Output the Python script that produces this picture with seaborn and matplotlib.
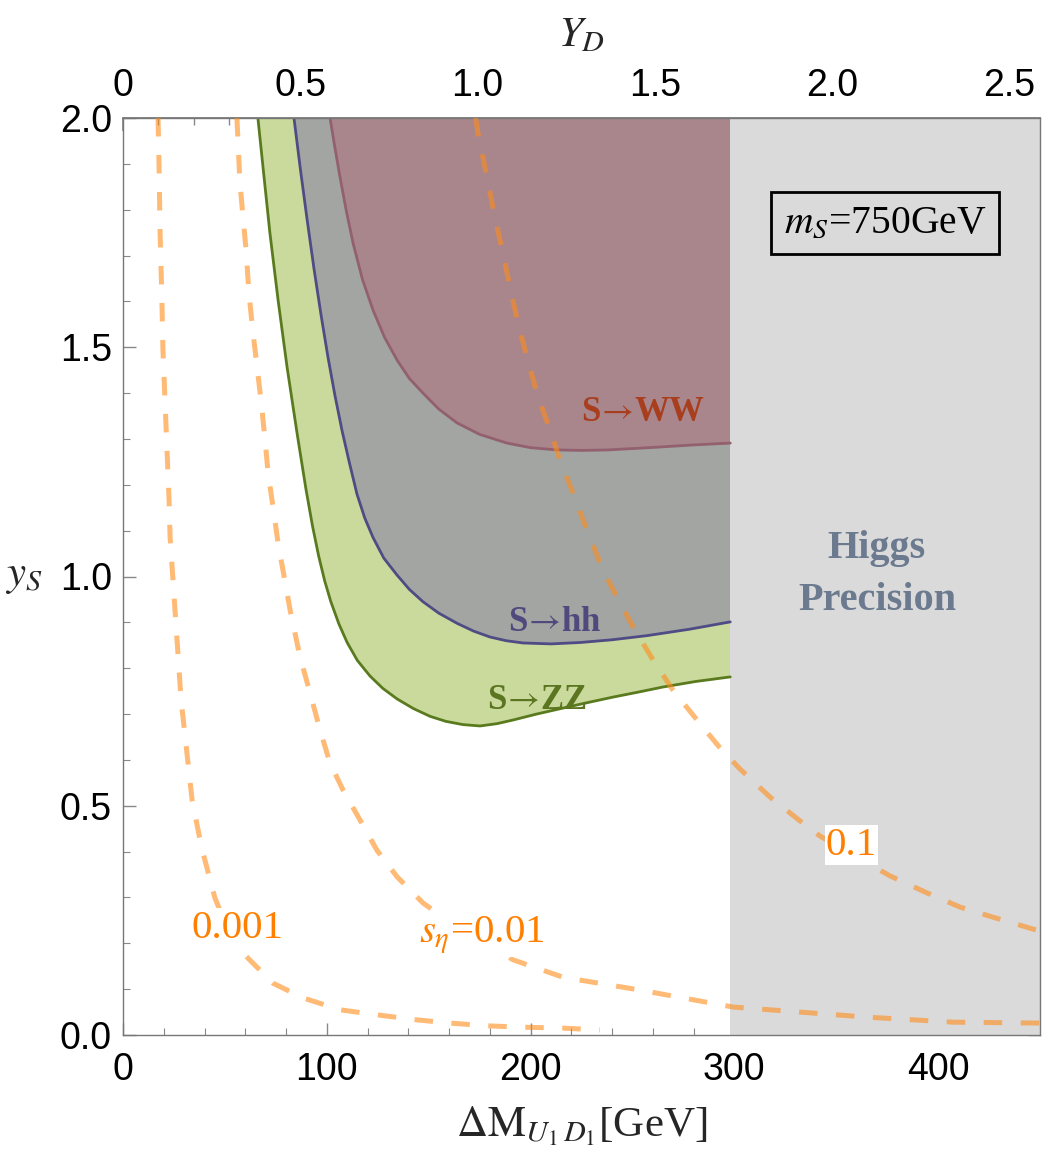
import numpy as np
import pandas as pd
import matplotlib
matplotlib.use("Agg")
import matplotlib.pyplot as plt
from matplotlib.ticker import MultipleLocator
import seaborn as sns

# ---- boundaries of excluded regions, x = dM [GeV], y = y_S
zz_x = [66.2, 68.7, 72.1, 76.1, 80.5, 85.4, 89.8, 93.0, 96.0, 99.0, 102.0, 106.0, 110.0,
        115.0, 121.2, 127.5, 134.5, 142.5, 150.7, 158.5, 166.8, 175.2, 183.5, 191.4, 203.0,
        215.9, 228.0, 240.5, 253.0, 265.0, 281.0, 298.0]
zz_y = [2.000, 1.893, 1.749, 1.603, 1.457, 1.313, 1.190, 1.110, 1.045, 0.990, 0.945, 0.896,
        0.856, 0.817, 0.783, 0.756, 0.733, 0.712, 0.695, 0.684, 0.677, 0.674, 0.679, 0.687,
        0.700, 0.713, 0.725, 0.737, 0.748, 0.759, 0.771, 0.781]

hh_x = [83.9, 87.0, 90.3, 93.7, 97.2, 100.6, 104.0, 107.5, 111.0, 114.8, 118.6, 122.7, 128.0,
        134.5, 140.5, 147.2, 155.0, 163.9, 172.0, 180.1, 188.0, 196.3, 210.0, 224.3, 240.0,
        257.1, 278.0, 298.0]
hh_y = [2.000, 1.890, 1.780, 1.672, 1.570, 1.478, 1.395, 1.318, 1.250, 1.180, 1.128, 1.085,
        1.040, 1.003, 0.972, 0.945, 0.920, 0.898, 0.881, 0.868, 0.860, 0.855, 0.853, 0.856,
        0.862, 0.871, 0.885, 0.901]

ww_x = [101.6, 104.0, 106.5, 109.6, 112.9, 117.5, 122.7, 128.3, 134.5, 140.5, 147.2, 155.0,
        163.9, 175.0, 188.4, 200.0, 213.0, 225.0, 237.5, 250.0, 262.0, 280.0, 298.0]
ww_y = [2.000, 1.935, 1.871, 1.797, 1.727, 1.648, 1.581, 1.522, 1.472, 1.432, 1.400, 1.365,
        1.335, 1.310, 1.291, 1.281, 1.276, 1.275, 1.276, 1.279, 1.282, 1.287, 1.291]

# ---- s_eta contours
s001_x = [17.2, 17.7, 18.2, 19.1, 19.6, 20.6, 21.6, 22.6, 23.1, 28.5, 33.9, 38.5, 45.1, 50.5,
          57.4, 73.6, 88.3, 106.5, 124.6, 144.3, 160.5, 178.6, 196.3, 215.9, 234.0]
s001_y = [2.000, 1.893, 1.749, 1.603, 1.494, 1.385, 1.276, 1.167, 1.086, 0.731, 0.513, 0.410,
          0.299, 0.240, 0.185, 0.113, 0.081, 0.055, 0.044, 0.033, 0.026, 0.020, 0.017, 0.015, 0.011]

s01_x = [55.9, 57.4, 58.9, 60.4, 61.8, 63.8, 65.8, 67.7, 69.7, 71.2, 73.6, 76.1, 82.0, 86.9,
         91.8, 96.7, 101.6, 108.0, 116.3, 124.6, 134.5, 147.2, 154.1, 191.4, 215.9, 253.7,
         299.3, 332.2, 365.1, 407.3, 450.0]
s01_y = [2.000, 1.858, 1.784, 1.712, 1.618, 1.531, 1.457, 1.385, 1.298, 1.226, 1.152, 1.073,
         0.927, 0.824, 0.746, 0.665, 0.593, 0.534, 0.469, 0.403, 0.345, 0.288, 0.266, 0.164,
         0.126, 0.098, 0.061, 0.050, 0.039, 0.028, 0.026]

s1_x = [173.0, 174.2, 178.6, 182.5, 186.4, 189.9, 193.8, 198.2, 203.1, 209.5, 214.4, 220.8,
        227.7, 235.5, 242.4, 250.3, 260.1, 269.9, 281.7, 293.0, 302.8, 317.5, 332.2, 342.0,
        376.4, 394.5, 410.7, 426.9, 446.6, 450.0]
s1_y = [2.000, 1.967, 1.871, 1.784, 1.706, 1.631, 1.553, 1.479, 1.400, 1.320, 1.254, 1.182,
        1.101, 1.014, 0.955, 0.890, 0.818, 0.752, 0.687, 0.626, 0.580, 0.519, 0.467, 0.434,
        0.347, 0.310, 0.279, 0.257, 0.231, 0.227]

higgs_cut = 298  # GeV
x_max = 450
conv = 174.0  # dM / Y_D

sns.set_theme(style="white")
plt.rcParams['font.family'] = ['Liberation Serif', 'DejaVu Serif']
plt.rcParams['mathtext.fontset'] = 'stix'

fig = plt.figure(figsize=(10.42, 11.63), dpi=100)
ax = fig.add_axes([123/1042, 1 - 1035/1163, 917/1042, 917/1163])

# excluded regions
ax.fill_between(zz_x, zz_y, 2, color='#c9da9c', lw=0, zorder=1)
ax.fill_between(hh_x, hh_y, 2, color='#a3a5a2', lw=0, zorder=1.1)
ax.fill_between(ww_x, ww_y, 2, color='#a9868b', lw=0, zorder=1.2)
ax.axvspan(higgs_cut, x_max, color='#dadada', lw=0, zorder=1.5)

for xs, ys, c in [(zz_x, zz_y, '#5a7a1e'), (hh_x, hh_y, '#4f4b85'), (ww_x, ww_y, '#93606f')]:
    sns.lineplot(x=xs, y=ys, color=c, lw=2, ax=ax, zorder=2, sort=False)

# s_eta contours
for xs, ys in [(s001_x, s001_y), (s01_x, s01_y), (s1_x, s1_y)]:
    sns.lineplot(x=xs, y=ys, color='#ff8c1a', alpha=0.6, lw=3.6, ax=ax, zorder=3,
                 sort=False, linestyle=(0, (3.7, 3.7)))

lab_kw = dict(color='#ff8000', fontsize=29.5, ha='center', va='center', zorder=4,
              bbox=dict(facecolor='white', edgecolor='none', pad=1))
ax.text(56.4, 0.233, '0.001', **lab_kw)
ax.text(176.2, 0.218, r'$s_\eta$=0.01', **lab_kw)
ax.text(357.5, 0.414, '0.1', **lab_kw)

# region labels
reg_kw = dict(fontsize=25, fontweight='bold', ha='center', va='center', zorder=4)
ax.text(255, 1.357, r'S$\!\rightarrow\!$WW', color='#a83e1e', **reg_kw)
ax.text(212, 0.90, r'S$\!\rightarrow\!$hh', color='#4e4a7e', **reg_kw)
ax.text(203, 0.73, r'S$\!\rightarrow\!$ZZ', color='#5b7520', **reg_kw)
ax.text(370, 1.005, 'Higgs\nPrecision', color='#6b7a8f', fontsize=29, fontweight='bold',
        ha='center', va='center', linespacing=1.55, zorder=4)
ax.text(374, 1.771, r'$m_S$=750GeV', color='black', fontsize=28.5, ha='center', va='center', zorder=4,
        bbox=dict(facecolor='none', edgecolor='black', lw=2, pad=9))

ax.set_xlim(0, x_max)
ax.set_ylim(0, 2)
ax.xaxis.set_major_locator(MultipleLocator(100))
ax.xaxis.set_minor_locator(MultipleLocator(20))
ax.yaxis.set_major_locator(MultipleLocator(0.5))
ax.yaxis.set_minor_locator(MultipleLocator(0.1))
ax.set_yticks([0, 0.5, 1.0, 1.5, 2.0], ['0.0', '0.5', '1.0', '1.5', '2.0'])
ax.set_xticks([0, 100, 200, 300, 400], ['0', '100', '200', '300', '400'])
ax.tick_params(which='both', direction='in', colors='#888888', labelcolor='black',
               top=False, right=True, left=True, bottom=True)
ax.tick_params(which='major', length=9, width=1)
ax.tick_params(which='minor', length=5, width=0.8)
ax.tick_params(axis='x', pad=12)
ax.tick_params(axis='y', pad=8)
for lab in ax.get_xticklabels() + ax.get_yticklabels():
    lab.set_family(['Liberation Sans', 'DejaVu Sans'])
    lab.set_fontsize(27)
for sp in ax.spines.values():
    sp.set_color('#777777')
    sp.set_linewidth(1)

top = ax.secondary_xaxis('top', functions=(lambda x: x / conv, lambda y: y * conv))
top.set_xticks([0, 0.5, 1.0, 1.5, 2.0, 2.5], ['0', '0.5', '1.0', '1.5', '2.0', '2.5'])
top.xaxis.set_minor_locator(MultipleLocator(0.1))
top.tick_params(which='both', direction='in', colors='#888888', labelcolor='black', pad=10)
top.tick_params(which='major', length=9)
top.tick_params(which='minor', length=5)
for lab in top.get_xticklabels():
    lab.set_family(['Liberation Sans', 'DejaVu Sans'])
    lab.set_fontsize(27)
top.spines['top'].set_color('#777777')
top.set_xlabel(r'$Y_D$', fontsize=31, labelpad=16)

ax.set_xlabel(r'$\Delta\mathrm{M}_{U_1\,D_1}$[GeV]', fontsize=31, labelpad=12)
ax.set_ylabel(r'$y_S$', fontsize=31, rotation=0, va='center', ha='center')
ax.yaxis.set_label_coords(-0.108, 0.5)

fig.savefig('out.png', dpi=100)
